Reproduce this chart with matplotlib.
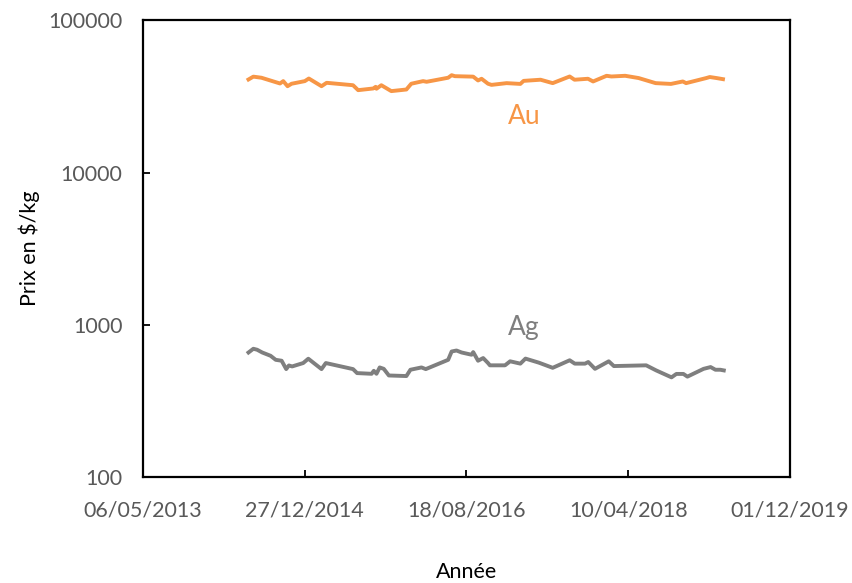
import matplotlib
matplotlib.use("Agg")
import matplotlib.pyplot as plt
import matplotlib.dates as mdates
import pandas as pd

# prix de l'or (Au) en $/kg
au_dates = ['2014-06-01', '2014-06-19', '2014-07-19', '2014-09-26', '2014-10-08', '2014-10-24',
            '2014-11-08', '2014-12-27', '2015-01-11', '2015-02-27', '2015-03-18', '2015-06-24',
            '2015-07-13', '2015-09-07', '2015-09-16', '2015-09-19', '2015-10-07', '2015-11-13',
            '2016-01-08', '2016-01-26', '2016-03-10', '2016-03-23', '2016-06-11', '2016-06-24',
            '2016-07-06', '2016-09-12', '2016-09-30', '2016-10-13', '2016-11-06', '2016-11-19',
            '2017-01-14', '2017-03-06', '2017-03-18', '2017-05-20', '2017-07-04', '2017-09-05',
            '2017-09-23', '2017-11-12', '2017-12-01', '2018-01-20', '2018-02-07', '2018-03-30',
            '2018-05-19', '2018-07-21', '2018-09-16', '2018-10-30', '2018-11-11', '2019-01-25',
            '2019-02-07', '2019-03-04', '2019-03-28']
au_prix = [40900, 42700, 42000, 38500, 39900, 36950,
           38350, 39900, 41500, 36950, 38900, 37500,
           34800, 35700, 36600, 35550, 37500, 34300,
           35150, 38350, 39900, 39500, 42000, 43650,
           43000, 42700, 40300, 41350, 38350, 37700,
           38700, 38250, 40050, 40750, 38700, 42800,
           40750, 41350, 39700, 43250, 42800, 43250,
           41800, 38700, 38250, 39700, 38700, 41800,
           42450, 41800, 41100]

# prix de l'argent (Ag) en $/kg
ag_dates = ['2014-06-01', '2014-06-19', '2014-07-03', '2014-07-22', '2014-08-22', '2014-09-10',
            '2014-10-02', '2014-10-19', '2014-10-29', '2014-11-10', '2014-12-21', '2015-01-09',
            '2015-02-27', '2015-03-15', '2015-06-24', '2015-07-09', '2015-09-01', '2015-09-09',
            '2015-09-19', '2015-10-01', '2015-10-16', '2015-11-04', '2016-01-08', '2016-01-23',
            '2016-03-04', '2016-03-20', '2016-06-11', '2016-06-24', '2016-07-12', '2016-07-31',
            '2016-09-06', '2016-09-12', '2016-09-30', '2016-10-19', '2016-11-06', '2016-11-13',
            '2017-01-08', '2017-01-27', '2017-03-06', '2017-03-25', '2017-05-14', '2017-07-04',
            '2017-09-05', '2017-09-24', '2017-11-01', '2017-11-13', '2017-12-08', '2018-01-28',
            '2018-02-16', '2018-06-16', '2018-07-23', '2018-09-18', '2018-10-06', '2018-11-01',
            '2018-11-16', '2019-01-15', '2019-02-10', '2019-02-28', '2019-03-18', '2019-03-31']
ag_prix = [657, 695, 685, 657, 625, 588,
           580, 511, 540, 532, 560, 598,
           511, 560, 511, 481, 476, 498,
           476, 524, 513, 464, 460, 506,
           524, 511, 588, 667, 677, 657,
           635, 661, 580, 604, 560, 541,
           541, 575, 555, 599, 563, 521,
           584, 555, 555, 569, 513, 575,
           535, 541, 501, 451, 475, 475,
           456, 513, 527, 506, 506, 501]

x_ticks = ['2013-05-06', '2014-12-27', '2016-08-18', '2018-04-10', '2019-12-01']

plt.rcParams['font.family'] = ['Lato', 'DejaVu Sans']

fig = plt.figure(figsize=(8.52, 5.83), dpi=100)
ax = fig.add_axes([0.168, 0.182, 0.759, 0.783])

ax.plot(pd.to_datetime(au_dates), au_prix, color='#F79646', lw=2.8, solid_joinstyle='round')
ax.plot(pd.to_datetime(ag_dates), ag_prix, color='#7F7F7F', lw=2.8, solid_joinstyle='round')

ax.set_yscale('log')
ax.set_ylim(100, 100000)
ticks = pd.to_datetime(x_ticks)
ax.set_xlim(ticks[0], ticks[-1])
ax.set_xticks(ticks)
ax.xaxis.set_major_formatter(mdates.DateFormatter('%d/%m/%Y'))
ax.set_yticks([100, 1000, 10000, 100000])
ax.set_yticklabels(['100', '1000', '10000', '100000'])
ax.yaxis.set_minor_locator(matplotlib.ticker.NullLocator())

ax.tick_params(direction='in', length=5, width=1.3, colors='black', labelcolor='#595959',
               labelsize=15.5)
ax.tick_params(axis='x', pad=17)
ax.tick_params(axis='y', pad=15)
for s in ax.spines.values():
    s.set_linewidth(1.6)

ax.text(pd.Timestamp('2017-03-20'), 23500, 'Au', color='#F79646', fontsize=19,
        ha='center', va='center')
ax.text(pd.Timestamp('2017-03-20'), 960, 'Ag', color='#7F7F7F', fontsize=19,
        ha='center', va='center')

ax.set_xlabel('Année', fontsize=15.5, labelpad=30)
ax.set_ylabel('Prix en $/kg', fontsize=15.5, labelpad=6)

fig.savefig('out.png', dpi=100)
